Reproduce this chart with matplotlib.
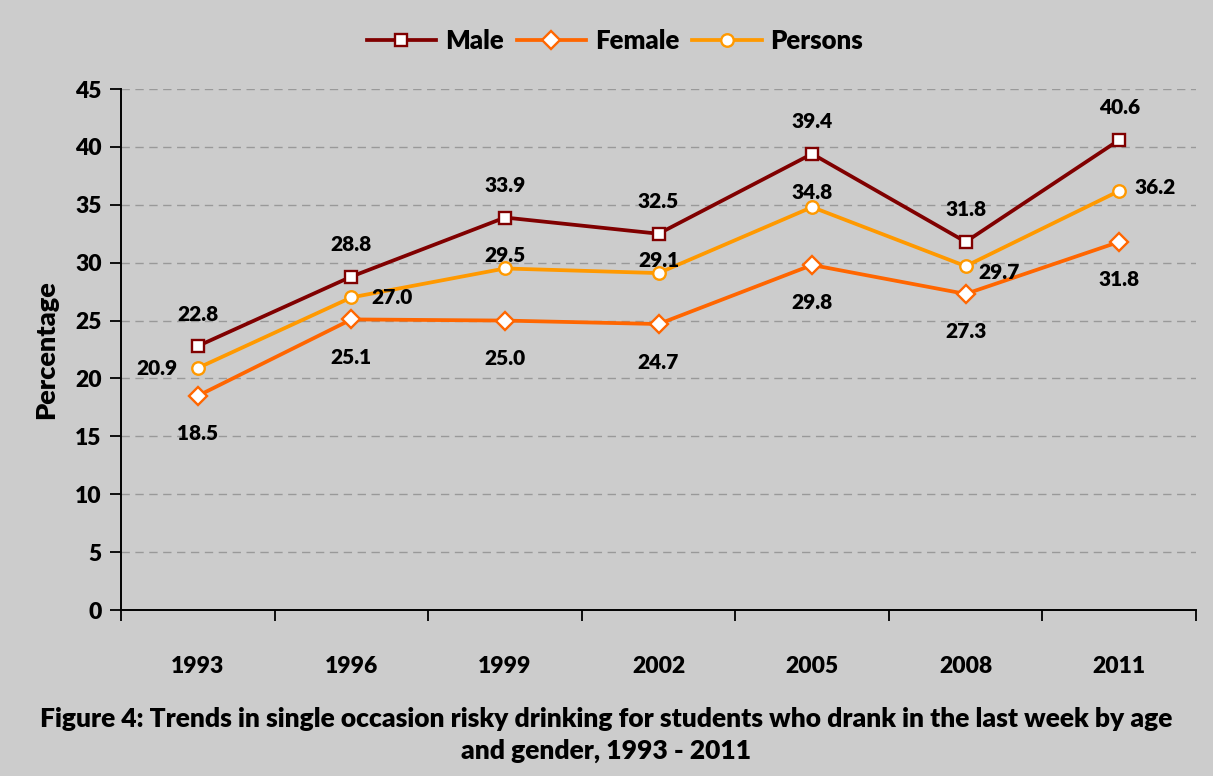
import numpy as np
import matplotlib.pyplot as plt

years = ['1993', '1996', '1999', '2002', '2005', '2008', '2011']
male = [22.8, 28.8, 33.9, 32.5, 39.4, 31.8, 40.6]
female = [18.5, 25.1, 25.0, 24.7, 29.8, 27.3, 31.8]
persons = [20.9, 27.0, 29.5, 29.1, 34.8, 29.7, 36.2]

bg = '#cccccc'
W = 'heavy'
plt.rcParams['font.family'] = ['Lato', 'DejaVu Sans']
plt.rcParams['font.weight'] = W

fig = plt.figure(figsize=(12.13, 7.76), dpi=100, facecolor=bg)
ax = fig.add_axes([0.0998, 0.2139, 0.8862, 0.6714], facecolor=bg)

x = np.arange(len(years))
px = 0.72  # points per pixel

# label offsets (pixels) for each point
male_off = [(0, 32)] * 7
female_off = [(0, -38)] * 7
persons_off = [(-41, 0), (41, 0), (0, 13), (0, 13), (0, 15), (33, -6), (36, 3)]

series = [
    ('Male', male, '#800000', 's', 9, male_off),
    ('Female', female, '#ff6600', 'D', 9, female_off),
    ('Persons', persons, '#ff9900', 'o', 9, persons_off),
]

for name, vals, col, mk, ms, offs in series:
    ax.plot(x, vals, color=col, lw=2.7, marker=mk, ms=ms, mfc='white',
            mec=col, mew=1.7, label=name, zorder=3)
    for xi, v, (dx, dy) in zip(x, vals, offs):
        ax.annotate(f'{v:.1f}', (xi, v), xytext=(dx * px, dy * px),
                    textcoords='offset points', ha='center', va='center',
                    fontsize=15, fontweight=W, color='black')

ax.set_xlim(-0.5, 6.5)
ax.set_ylim(0, 45)
ax.set_yticks(np.arange(0, 46, 5))
ax.set_xticks(x)
ax.set_xticklabels(years)
ax.set_xticks(np.arange(-0.5, 7, 1), minor=True)
ax.tick_params(axis='x', which='major', length=0, pad=33, labelsize=16.5)
ax.tick_params(axis='x', which='minor', length=8, width=1.3, direction='out')
ax.tick_params(axis='y', length=8, width=1.3, direction='out', pad=6, labelsize=16.5)
for lab in ax.get_xticklabels() + ax.get_yticklabels():
    lab.set_fontweight(W)

for y in np.arange(5, 46, 5):
    ax.axhline(y, color='#999999', lw=1, ls=(0, (6, 4)), zorder=1)

for s in ['top', 'right']:
    ax.spines[s].set_visible(False)
for s in ['left', 'bottom']:
    ax.spines[s].set_linewidth(1.4)

ax.set_ylabel('Percentage', fontsize=19.5, fontweight=W, labelpad=12)

fig.legend(loc='upper center', bbox_to_anchor=(0.507, 0.993), ncol=3,
           frameon=False, handlelength=2.7, columnspacing=0.5,
           handletextpad=0.35, prop={'weight': W, 'size': 18.5})

fig.text(0.5, 0.073, 'Figure 4: Trends in single occasion risky drinking for students who drank in the last week by age',
         ha='center', va='center', fontsize=19, fontweight=W)
fig.text(0.5, 0.033, 'and gender, 1993 - 2011',
         ha='center', va='center', fontsize=19, fontweight=W)

fig.savefig('out.png', dpi=100, facecolor=bg)
